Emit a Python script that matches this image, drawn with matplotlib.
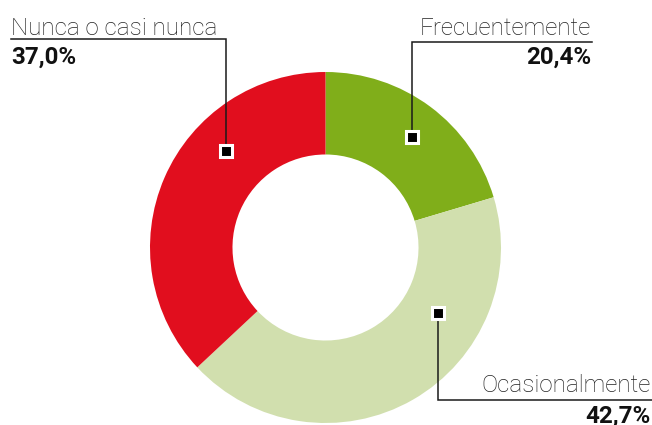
import matplotlib
matplotlib.use("Agg")
import matplotlib.pyplot as plt

categories = ["Frecuentemente", "Ocasionalmente", "Nunca o casi nunca"]
values = [20.4, 42.7, 37.0]
value_labels = ["20,4%", "42,7%", "37,0%"]
colors = ["#80ae1a", "#d1dfae", "#e10e1e"]

W, H = 652, 425
fig = plt.figure(figsize=(W / 100, H / 100), dpi=100)
ax = fig.add_axes([0, 0, 1, 1])

cx, cy, R = 325.5, H - 247.5, 175.5
ax.pie(values, colors=colors, startangle=90, counterclock=False,
       center=(cx, cy), radius=R, wedgeprops=dict(width=R * 0.47, linewidth=0),
       frame=True)
ax.set_xlim(0, W)
ax.set_ylim(0, H)
ax.set_aspect("equal")
ax.axis("off")

def Y(y):
    return H - y

fam = ["Roboto", "DejaVu Sans"]
fs = 17.4

# (marker x, marker y, elbow y, line end x, text x, ha, name y, value y)
annots = [
    (411.7, 137.3, 41.7, 591.5, 591.5, "right", 34.5, 63.5),
    (437.7, 313.3, 400.0, 652.0, 650.5, "right", 392.0, 422.5),
    (225.7, 150.7, 39.3, 11.0, 11.0, "left", 35.0, 64.0),
]

for (mx, my, ey, lx, tx, ha, ny, vy), name, val in zip(annots, categories, value_labels):
    ax.plot([mx, mx, lx], [Y(my), Y(ey), Y(ey)], color="#1a1a1a", lw=1.1,
            solid_joinstyle="miter", zorder=3)
    ax.plot([mx], [Y(my)], marker="s", ms=8.5, mfc="black", mec="white",
            mew=2.2, zorder=4)
    ax.text(tx, Y(ny), name, ha=ha, va="baseline", fontsize=fs,
            family=fam, fontweight="light", color="#222222")
    ax.text(tx, Y(vy), val, ha=ha, va="baseline", fontsize=fs,
            family=fam, fontweight="bold", color="#111111")

fig.savefig("out.png", dpi=100)
